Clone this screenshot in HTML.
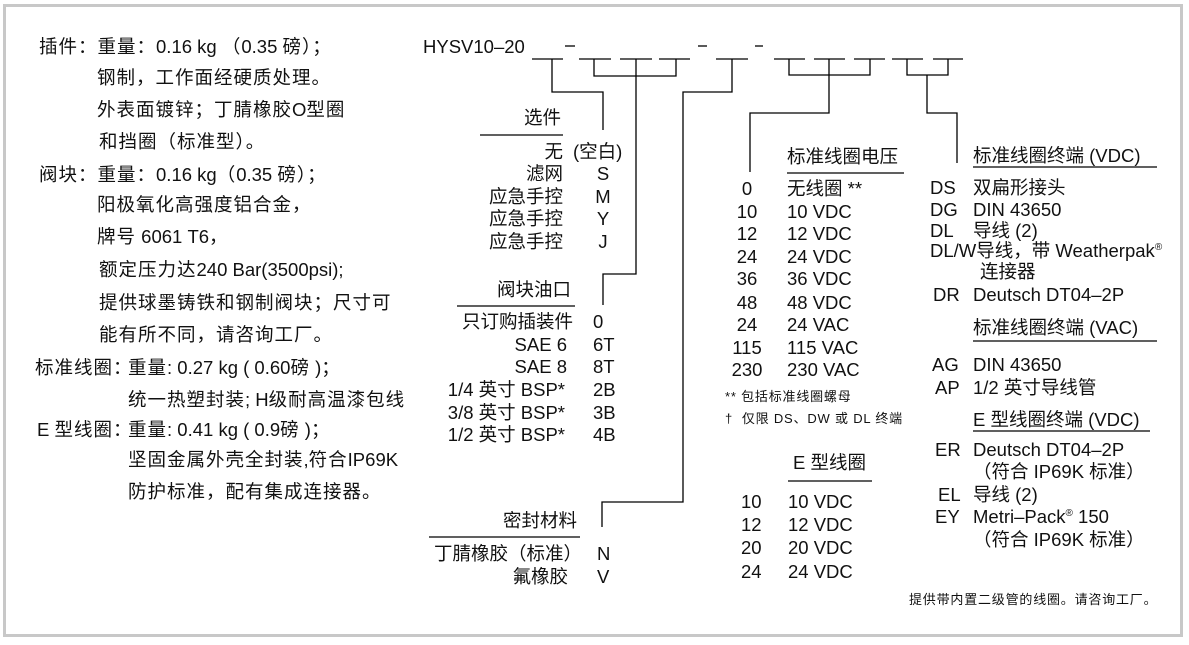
<!DOCTYPE html>
<html><head><meta charset="utf-8">
<style>
html,body{margin:0;padding:0;background:#fff;}
body{width:1189px;height:645px;position:relative;overflow:hidden;font-family:"Liberation Sans","Noto Sans CJK SC",sans-serif;color:#111;}
.frame{position:absolute;left:3px;top:4px;width:1180px;height:633px;box-sizing:border-box;border:3px solid #c8c8c8;}
.t{position:absolute;white-space:nowrap;font-size:18.5px;line-height:20px;}
.lc{letter-spacing:1px;}
.lc .l{letter-spacing:0;}
.c{text-align:center;}
.s{position:absolute;white-space:nowrap;font-size:13px;line-height:16px;letter-spacing:0.8px;}
sup{font-size:10px;line-height:0;vertical-align:7px;}
svg{position:absolute;left:0;top:0;}
</style></head>
<body>
<div class="frame"></div>

<svg width="1189" height="645" viewBox="0 0 1189 645">
<g stroke="#000" stroke-width="1.3" fill="none">
<!-- dashes in model code -->
<line x1="565" y1="46" x2="575" y2="46"/>
<line x1="698" y1="46" x2="707" y2="46"/>
<line x1="755" y1="46" x2="763" y2="46"/>
<!-- underline slots -->
<line x1="532" y1="59" x2="563" y2="59"/>
<line x1="579" y1="59" x2="611" y2="59"/>
<line x1="620" y1="59" x2="652" y2="59"/>
<line x1="659" y1="59" x2="690" y2="59"/>
<line x1="716" y1="59" x2="748" y2="59"/>
<line x1="774" y1="59" x2="805" y2="59"/>
<line x1="814" y1="59" x2="845" y2="59"/>
<line x1="854" y1="59" x2="885" y2="59"/>
<line x1="892" y1="59" x2="923" y2="59"/>
<line x1="933" y1="59" x2="963" y2="59"/>
<!-- connectors -->
<path d="M552 59 V92 H603 V130"/>
<path d="M594 59 V76 H676 V59"/>
<path d="M636 59 V274 H603 V305"/>
<path d="M732 59 V92 H683 V502 H602 V527"/>
<path d="M789 59 V75 H870 V59"/>
<path d="M829 59 V113 H750 V172"/>
<path d="M907 59 V75 H948 V59"/>
<path d="M927 75 V113 H957 V163"/>
<!-- header rules -->
<line x1="480" y1="135" x2="563" y2="135"/>
<line x1="457" y1="306" x2="575" y2="306"/>
<line x1="429" y1="537" x2="580" y2="537"/>
<line x1="787" y1="173" x2="904" y2="173"/>
<line x1="788" y1="481" x2="872" y2="481"/>
<line x1="973" y1="167" x2="1157" y2="167"/>
<line x1="973" y1="341" x2="1157" y2="341"/>
<line x1="973" y1="431" x2="1150" y2="431"/>
</g>
</svg>

<!-- Model code -->
<div class="t" style="left:423px;top:37px;">HYSV10–20</div>

<!-- Left column -->
<div class="t lc" style="left:39px;top:37px;">插件：重量：<span class="l">0.16 kg </span>（<span class="l">0.35 </span>磅）；</div>
<div class="t lc" style="left:97px;top:68px;">钢制，工作面经硬质处理。</div>
<div class="t lc" style="left:97px;top:100px;">外表面镀锌；丁腈橡胶<span class="l">O</span>型圈</div>
<div class="t lc" style="left:99px;top:132px;">和挡圈（标准型）。</div>
<div class="t lc" style="left:39px;top:165px;">阀块：重量：<span class="l">0.16 kg</span>（<span class="l">0.35 </span>磅）；</div>
<div class="t lc" style="left:97px;top:195px;">阳极氧化高强度铝合金，</div>
<div class="t lc" style="left:97px;top:227px;">牌号<span class="l"> 6061 T6</span>，</div>
<div class="t lc" style="left:99px;top:260px;">额定压力达<span class="l">240 Bar(3500psi);</span></div>
<div class="t lc" style="left:99px;top:293px;">提供球墨铸铁和钢制阀块；尺寸可</div>
<div class="t lc" style="left:99px;top:325px;">能有所不同，请咨询工厂。</div>
<div class="t lc" style="left:35px;top:358px;">标准线圈：</div>
<div class="t lc" style="left:128px;top:358px;">重量<span class="l">: 0.27 kg ( 0.60</span>磅<span class="l"> )</span>；</div>
<div class="t lc" style="left:128px;top:390px;">统一热塑封装<span class="l">; H</span>级耐高温漆包线</div>
<div class="t lc" style="left:37px;top:420px;"><span class="l">E </span>型线圈：</div>
<div class="t lc" style="left:128px;top:420px;">重量<span class="l">: 0.41 kg ( 0.9</span>磅<span class="l"> )</span>；</div>
<div class="t lc" style="left:128px;top:450px;">坚固金属外壳全封装<span class="l">,</span>符合<span class="l">IP69K</span></div>
<div class="t lc" style="left:128px;top:482px;">防护标准，配有集成连接器。</div>

<!-- 选件 -->
<div class="t" style="right:628px;top:108px;">选件</div>
<div class="t" style="right:626px;top:142px;">无</div>
<div class="t" style="left:573px;top:142px;">(空白)</div>
<div class="t" style="right:626px;top:164px;">滤网</div>
<div class="t c" style="left:588px;width:30px;top:164px;">S</div>
<div class="t" style="right:626px;top:187px;">应急手控</div>
<div class="t c" style="left:588px;width:30px;top:187px;">M</div>
<div class="t" style="right:626px;top:209px;">应急手控</div>
<div class="t c" style="left:588px;width:30px;top:209px;">Y</div>
<div class="t" style="right:626px;top:232px;">应急手控</div>
<div class="t c" style="left:588px;width:30px;top:232px;">J</div>

<!-- 阀块油口 -->
<div class="t" style="right:618px;top:280px;">阀块油口</div>
<div class="t" style="right:616px;top:312px;">只订购插装件</div>
<div class="t" style="left:593px;top:312px;">0</div>
<div class="t" style="right:622px;top:335px;">SAE 6</div>
<div class="t" style="left:593px;top:335px;">6T</div>
<div class="t" style="right:622px;top:357px;">SAE 8</div>
<div class="t" style="left:593px;top:357px;">8T</div>
<div class="t" style="right:624px;top:380px;">1/4 英寸 BSP*</div>
<div class="t" style="left:593px;top:380px;">2B</div>
<div class="t" style="right:624px;top:403px;">3/8 英寸 BSP*</div>
<div class="t" style="left:593px;top:403px;">3B</div>
<div class="t" style="right:624px;top:425px;">1/2 英寸 BSP*</div>
<div class="t" style="left:593px;top:425px;">4B</div>

<!-- 密封材料 -->
<div class="t" style="right:612px;top:511px;">密封材料</div>
<div class="t" style="right:607px;top:544px;">丁腈橡胶（标准）</div>
<div class="t" style="left:597px;top:544px;">N</div>
<div class="t" style="right:621px;top:567px;">氟橡胶</div>
<div class="t" style="left:597px;top:567px;">V</div>

<!-- 标准线圈电压 -->
<div class="t" style="left:787px;top:147px;">标准线圈电压</div>
<div class="t c" style="left:717px;width:60px;top:179px;">0</div>
<div class="t" style="left:787px;top:179px;">无线圈 **</div>
<div class="t c" style="left:717px;width:60px;top:202px;">10</div>
<div class="t" style="left:787px;top:202px;">10 VDC</div>
<div class="t c" style="left:717px;width:60px;top:224px;">12</div>
<div class="t" style="left:787px;top:224px;">12 VDC</div>
<div class="t c" style="left:717px;width:60px;top:247px;">24</div>
<div class="t" style="left:787px;top:247px;">24 VDC</div>
<div class="t c" style="left:717px;width:60px;top:269px;">36</div>
<div class="t" style="left:787px;top:269px;">36 VDC</div>
<div class="t c" style="left:717px;width:60px;top:293px;">48</div>
<div class="t" style="left:787px;top:293px;">48 VDC</div>
<div class="t c" style="left:717px;width:60px;top:315px;">24</div>
<div class="t" style="left:787px;top:315px;">24 VAC</div>
<div class="t c" style="left:717px;width:60px;top:338px;">115</div>
<div class="t" style="left:787px;top:338px;">115 VAC</div>
<div class="t c" style="left:717px;width:60px;top:360px;">230</div>
<div class="t" style="left:787px;top:360px;">230 VAC</div>
<div class="s" style="left:725px;top:389px;">** 包括标准线圈螺母</div>
<div class="s" style="left:725px;top:411px;">†&nbsp; 仅限 DS、DW 或 DL 终端</div>

<!-- E 型线圈 -->
<div class="t" style="left:793px;top:453px;">E 型线圈</div>
<div class="t" style="left:741px;top:492px;">10</div>
<div class="t" style="left:788px;top:492px;">10 VDC</div>
<div class="t" style="left:741px;top:515px;">12</div>
<div class="t" style="left:788px;top:515px;">12 VDC</div>
<div class="t" style="left:741px;top:538px;">20</div>
<div class="t" style="left:788px;top:538px;">20 VDC</div>
<div class="t" style="left:741px;top:562px;">24</div>
<div class="t" style="left:788px;top:562px;">24 VDC</div>

<!-- Right column -->
<div class="t" style="left:973px;top:146px;">标准线圈终端 (VDC)</div>
<div class="t" style="left:930px;top:178px;">DS</div>
<div class="t" style="left:973px;top:178px;">双扁形接头</div>
<div class="t" style="left:930px;top:200px;">DG</div>
<div class="t" style="left:973px;top:200px;">DIN 43650</div>
<div class="t" style="left:930px;top:221px;">DL</div>
<div class="t" style="left:973px;top:221px;">导线 (2)</div>
<div class="t" style="left:930px;top:241px;">DL/W导线，带 Weatherpak<sup>®</sup></div>
<div class="t" style="left:980px;top:262px;">连接器</div>
<div class="t" style="left:933px;top:285px;">DR</div>
<div class="t" style="left:973px;top:285px;">Deutsch DT04–2P</div>
<div class="t" style="left:973px;top:318px;">标准线圈终端 (VAC)</div>
<div class="t" style="left:932px;top:355px;">AG</div>
<div class="t" style="left:973px;top:355px;">DIN 43650</div>
<div class="t" style="left:935px;top:378px;">AP</div>
<div class="t" style="left:973px;top:378px;">1/2 英寸导线管</div>
<div class="t" style="left:973px;top:410px;">E 型线圈终端 (VDC)</div>
<div class="t" style="left:935px;top:440px;">ER</div>
<div class="t" style="left:973px;top:440px;">Deutsch DT04–2P</div>
<div class="t" style="left:973px;top:462px;">（符合 IP69K 标准）</div>
<div class="t" style="left:938px;top:485px;">EL</div>
<div class="t" style="left:973px;top:485px;">导线 (2)</div>
<div class="t" style="left:935px;top:507px;">EY</div>
<div class="t" style="left:973px;top:507px;">Metri–Pack<sup>®</sup> 150</div>
<div class="t" style="left:973px;top:530px;">（符合 IP69K 标准）</div>
<div class="s" style="left:909px;top:592px;">提供带内置二级管的线圈。请咨询工厂。</div>
</body></html>
